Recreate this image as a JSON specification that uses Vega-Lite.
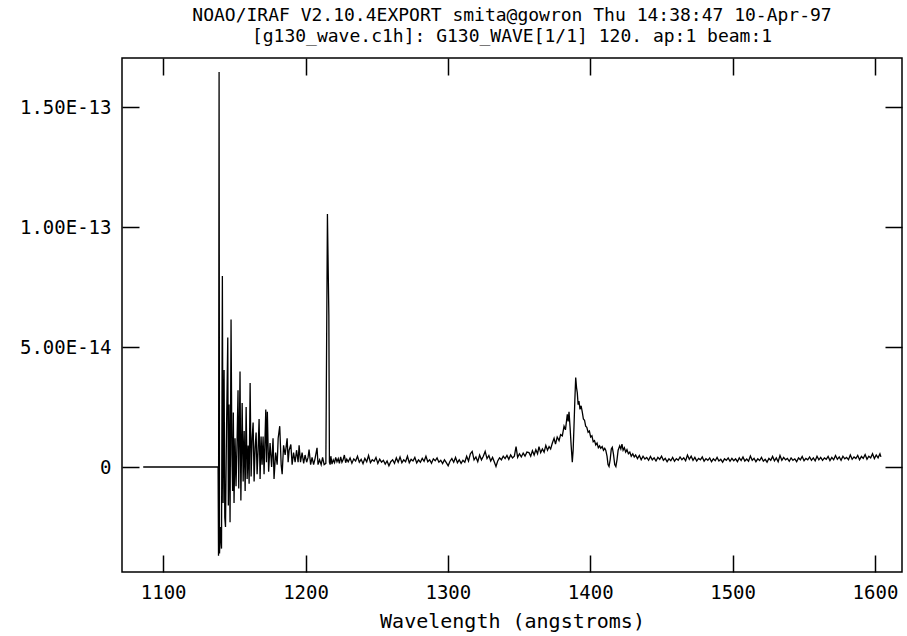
{
  "$schema": "https://vega.github.io/schema/vega-lite/v6.json",
  "width": 780,
  "height": 514,
  "autosize": {"type": "none"},
  "padding": {"left": 122, "top": 58, "right": 5, "bottom": 64},
  "background": "white",
  "title": {
    "text": ["NOAO/IRAF V2.10.4EXPORT smita@gowron Thu 14:38:47 10-Apr-97", "[g130_wave.c1h]: G130_WAVE[1/1] 120. ap:1 beam:1"],
    "font": "DejaVu Sans Mono",
    "fontSize": 18,
    "fontWeight": "normal",
    "color": "black",
    "anchor": "middle",
    "frame": "group",
    "offset": 11,
    "lineHeight": 21
  },
  "data": {
    "values": [
      {"w": 1086.0, "f": 0},
      {"w": 1138.6, "f": 0},
      {"w": 1138.9, "f": -3.7e-14},
      {"w": 1139.3, "f": 16.46e-14},
      {"w": 1139.6, "f": -3.6e-14},
      {"w": 1140.3, "f": -2.5e-14},
      {"w": 1141.0, "f": -3.4e-14},
      {"w": 1141.6, "f": 7.96e-14},
      {"w": 1142.1, "f": -1.5e-14},
      {"w": 1142.8, "f": 4.04e-14},
      {"w": 1143.3, "f": -2.1e-14},
      {"w": 1143.8, "f": -2.5e-14},
      {"w": 1144.5, "f": 1.5e-14},
      {"w": 1145.4, "f": 5.4e-14},
      {"w": 1145.8, "f": -1.6e-14},
      {"w": 1146.3, "f": 2.6e-14},
      {"w": 1147.0, "f": -2.3e-14},
      {"w": 1147.7, "f": 6.15e-14},
      {"w": 1148.3, "f": 0.5e-14},
      {"w": 1148.8, "f": -1.0e-14},
      {"w": 1149.3, "f": 2.27e-14},
      {"w": 1149.8, "f": -1.5e-14},
      {"w": 1150.5, "f": 1.2e-14},
      {"w": 1151.2, "f": -0.8e-14},
      {"w": 1151.9, "f": 1.0e-14},
      {"w": 1152.6, "f": 3.2e-14},
      {"w": 1153.1, "f": -0.9e-14},
      {"w": 1154.0, "f": 3.98e-14},
      {"w": 1154.6, "f": -1.4e-14},
      {"w": 1155.5, "f": 2.67e-14},
      {"w": 1156.2, "f": -0.6e-14},
      {"w": 1156.9, "f": 1.5e-14},
      {"w": 1157.6, "f": -1.0e-14},
      {"w": 1158.3, "f": 2.5e-14},
      {"w": 1159.0, "f": -0.5e-14},
      {"w": 1159.7, "f": 0.9e-14},
      {"w": 1160.4, "f": -0.7e-14},
      {"w": 1161.1, "f": 3.5e-14},
      {"w": 1161.8, "f": -0.4e-14},
      {"w": 1162.5, "f": 1.2e-14},
      {"w": 1163.2, "f": 1.85e-14},
      {"w": 1163.9, "f": -0.6e-14},
      {"w": 1164.6, "f": 0.8e-14},
      {"w": 1165.3, "f": 1.44e-14},
      {"w": 1166.0, "f": -0.3e-14},
      {"w": 1166.7, "f": 0.7e-14},
      {"w": 1167.4, "f": 2.0e-14},
      {"w": 1168.1, "f": -0.5e-14},
      {"w": 1168.8, "f": 1.27e-14},
      {"w": 1169.5, "f": 0.1e-14},
      {"w": 1170.2, "f": 1.27e-14},
      {"w": 1170.9, "f": -0.3e-14},
      {"w": 1172.1, "f": 2.4e-14},
      {"w": 1172.6, "f": 0.2e-14},
      {"w": 1173.2, "f": 2.3e-14},
      {"w": 1174.1, "f": -0.2e-14},
      {"w": 1175.1, "f": 1.0e-14},
      {"w": 1176.2, "f": 0.0},
      {"w": 1177.2, "f": 1.2e-14},
      {"w": 1177.9, "f": -0.5e-14},
      {"w": 1179.0, "f": 0.6e-14},
      {"w": 1180.1, "f": 0.1e-14},
      {"w": 1180.8, "f": 1.2e-14},
      {"w": 1181.9, "f": 1.7e-14},
      {"w": 1182.9, "f": 0.1e-14},
      {"w": 1183.6, "f": -0.3e-14},
      {"w": 1184.6, "f": 0.9e-14},
      {"w": 1185.7, "f": 0.5e-14},
      {"w": 1187.1, "f": 1.2e-14},
      {"w": 1187.8, "f": 0.2e-14},
      {"w": 1188.5, "f": 0.7e-14},
      {"w": 1189.7, "f": 0.94e-14},
      {"w": 1190.6, "f": 0.1e-14},
      {"w": 1191.6, "f": 0.6e-14},
      {"w": 1192.7, "f": 0.2e-14},
      {"w": 1193.7, "f": 0.7e-14},
      {"w": 1194.8, "f": 0.2e-14},
      {"w": 1195.5, "f": 0.9e-14},
      {"w": 1196.5, "f": 0.2e-14},
      {"w": 1197.6, "f": 0.6e-14},
      {"w": 1198.7, "f": 0.15e-14},
      {"w": 1199.7, "f": 0.5e-14},
      {"w": 1200.8, "f": 0.2e-14},
      {"w": 1201.8, "f": 0.4e-14},
      {"w": 1202.5, "f": 0.73e-14},
      {"w": 1203.6, "f": 0.1e-14},
      {"w": 1204.6, "f": 0.4e-14},
      {"w": 1205.7, "f": 0.1e-14},
      {"w": 1206.7, "f": 0.35e-14},
      {"w": 1208.1, "f": 0.8e-14},
      {"w": 1208.8, "f": 0.1e-14},
      {"w": 1209.9, "f": 0.3e-14},
      {"w": 1211.0, "f": 0.1e-14},
      {"w": 1212.0, "f": 0.4e-14},
      {"w": 1213.1, "f": 0.1e-14},
      {"w": 1214.3, "f": 0.15e-14},
      {"w": 1215.4, "f": 10.54e-14},
      {"w": 1216.4, "f": 6.3e-14},
      {"w": 1216.8, "f": 0.2e-14},
      {"w": 1217.3, "f": 0.10e-14},
      {"w": 1217.8, "f": 0.45e-14},
      {"w": 1218.6, "f": 0.12e-14},
      {"w": 1219.5, "f": 0.30e-14},
      {"w": 1220.4, "f": 0.18e-14},
      {"w": 1221.2, "f": 0.40e-14},
      {"w": 1222.1, "f": 0.22e-14},
      {"w": 1223.0, "f": 0.35e-14},
      {"w": 1223.8, "f": 0.15e-14},
      {"w": 1224.7, "f": 0.42e-14},
      {"w": 1225.6, "f": 0.20e-14},
      {"w": 1226.4, "f": 0.30e-14},
      {"w": 1227.3, "f": 0.50e-14},
      {"w": 1228.2, "f": 0.18e-14},
      {"w": 1229.0, "f": 0.33e-14},
      {"w": 1230.0, "f": 0.22e-14},
      {"w": 1231.3, "f": 0.38e-14},
      {"w": 1232.6, "f": 0.16e-14},
      {"w": 1233.9, "f": 0.34e-14},
      {"w": 1235.2, "f": 0.25e-14},
      {"w": 1236.5, "f": 0.45e-14},
      {"w": 1237.8, "f": 0.20e-14},
      {"w": 1239.1, "f": 0.32e-14},
      {"w": 1240.4, "f": 0.14e-14},
      {"w": 1241.7, "f": 0.36e-14},
      {"w": 1243.0, "f": 0.22e-14},
      {"w": 1244.3, "f": 0.48e-14},
      {"w": 1245.6, "f": 0.18e-14},
      {"w": 1246.9, "f": 0.30e-14},
      {"w": 1248.2, "f": 0.24e-14},
      {"w": 1249.5, "f": 0.40e-14},
      {"w": 1250.8, "f": 0.15e-14},
      {"w": 1252.1, "f": 0.33e-14},
      {"w": 1253.4, "f": 0.20e-14},
      {"w": 1254.7, "f": 0.28e-14},
      {"w": 1256.0, "f": 0.12e-14},
      {"w": 1257.3, "f": 0.25e-14},
      {"w": 1258.6, "f": 0.05e-14},
      {"w": 1259.9, "f": 0.22e-14},
      {"w": 1261.2, "f": 0.30e-14},
      {"w": 1262.5, "f": 0.15e-14},
      {"w": 1263.8, "f": 0.38e-14},
      {"w": 1265.1, "f": 0.20e-14},
      {"w": 1266.4, "f": 0.42e-14},
      {"w": 1267.7, "f": 0.18e-14},
      {"w": 1269.0, "f": 0.30e-14},
      {"w": 1270.3, "f": 0.22e-14},
      {"w": 1271.6, "f": 0.45e-14},
      {"w": 1272.9, "f": 0.18e-14},
      {"w": 1274.2, "f": 0.32e-14},
      {"w": 1275.5, "f": 0.25e-14},
      {"w": 1276.8, "f": 0.40e-14},
      {"w": 1278.1, "f": 0.17e-14},
      {"w": 1279.4, "f": 0.30e-14},
      {"w": 1280.7, "f": 0.20e-14},
      {"w": 1282.0, "f": 0.36e-14},
      {"w": 1283.3, "f": 0.24e-14},
      {"w": 1284.6, "f": 0.45e-14},
      {"w": 1285.9, "f": 0.22e-14},
      {"w": 1287.2, "f": 0.30e-14},
      {"w": 1288.5, "f": 0.16e-14},
      {"w": 1289.8, "f": 0.34e-14},
      {"w": 1291.1, "f": 0.26e-14},
      {"w": 1292.4, "f": 0.38e-14},
      {"w": 1293.7, "f": 0.20e-14},
      {"w": 1295.0, "f": 0.28e-14},
      {"w": 1296.3, "f": 0.14e-14},
      {"w": 1297.6, "f": 0.30e-14},
      {"w": 1298.9, "f": 0.18e-14},
      {"w": 1300.2, "f": 0.05e-14},
      {"w": 1301.5, "f": 0.24e-14},
      {"w": 1302.8, "f": 0.35e-14},
      {"w": 1304.1, "f": 0.20e-14},
      {"w": 1305.4, "f": 0.40e-14},
      {"w": 1306.7, "f": 0.18e-14},
      {"w": 1308.0, "f": 0.30e-14},
      {"w": 1309.3, "f": 0.15e-14},
      {"w": 1310.6, "f": 0.28e-14},
      {"w": 1311.9, "f": 0.20e-14},
      {"w": 1313.2, "f": 0.45e-14},
      {"w": 1314.5, "f": 0.25e-14},
      {"w": 1315.8, "f": 0.55e-14},
      {"w": 1317.1, "f": 0.65e-14},
      {"w": 1318.4, "f": 0.30e-14},
      {"w": 1319.7, "f": 0.42e-14},
      {"w": 1321.0, "f": 0.22e-14},
      {"w": 1322.3, "f": 0.50e-14},
      {"w": 1323.6, "f": 0.30e-14},
      {"w": 1324.9, "f": 0.45e-14},
      {"w": 1326.2, "f": 0.65e-14},
      {"w": 1327.5, "f": 0.35e-14},
      {"w": 1328.8, "f": 0.48e-14},
      {"w": 1330.1, "f": 0.25e-14},
      {"w": 1331.4, "f": 0.40e-14},
      {"w": 1332.7, "f": 0.20e-14},
      {"w": 1333.8, "f": 0.02e-14},
      {"w": 1335.0, "f": 0.25e-14},
      {"w": 1336.3, "f": 0.38e-14},
      {"w": 1337.6, "f": 0.30e-14},
      {"w": 1338.9, "f": 0.45e-14},
      {"w": 1340.2, "f": 0.35e-14},
      {"w": 1341.5, "f": 0.48e-14},
      {"w": 1342.8, "f": 0.32e-14},
      {"w": 1344.1, "f": 0.50e-14},
      {"w": 1345.4, "f": 0.38e-14},
      {"w": 1346.7, "f": 0.45e-14},
      {"w": 1347.9, "f": 0.85e-14},
      {"w": 1349.0, "f": 0.40e-14},
      {"w": 1350.3, "f": 0.55e-14},
      {"w": 1351.6, "f": 0.42e-14},
      {"w": 1352.9, "f": 0.58e-14},
      {"w": 1354.2, "f": 0.45e-14},
      {"w": 1355.5, "f": 0.62e-14},
      {"w": 1357.0, "f": 0.60e-14},
      {"w": 1358.2, "f": 0.45e-14},
      {"w": 1359.4, "f": 0.68e-14},
      {"w": 1360.6, "f": 0.50e-14},
      {"w": 1361.8, "f": 0.72e-14},
      {"w": 1363.0, "f": 0.55e-14},
      {"w": 1364.0, "f": 0.85e-14},
      {"w": 1365.2, "f": 0.60e-14},
      {"w": 1366.4, "f": 0.75e-14},
      {"w": 1367.6, "f": 0.62e-14},
      {"w": 1368.8, "f": 0.90e-14},
      {"w": 1370.0, "f": 0.70e-14},
      {"w": 1371.1, "f": 0.85e-14},
      {"w": 1372.2, "f": 0.75e-14},
      {"w": 1373.4, "f": 1.00e-14},
      {"w": 1374.6, "f": 1.20e-14},
      {"w": 1375.6, "f": 0.95e-14},
      {"w": 1376.8, "f": 1.25e-14},
      {"w": 1378.1, "f": 1.10e-14},
      {"w": 1379.2, "f": 1.35e-14},
      {"w": 1380.4, "f": 1.30e-14},
      {"w": 1381.6, "f": 1.70e-14},
      {"w": 1382.6, "f": 1.55e-14},
      {"w": 1383.9, "f": 2.20e-14},
      {"w": 1384.5, "f": 1.90e-14},
      {"w": 1385.1, "f": 2.30e-14},
      {"w": 1385.8, "f": 1.70e-14},
      {"w": 1386.6, "f": 0.90e-14},
      {"w": 1387.4, "f": 0.20e-14},
      {"w": 1388.0, "f": 0.70e-14},
      {"w": 1388.6, "f": 1.70e-14},
      {"w": 1389.2, "f": 2.80e-14},
      {"w": 1389.8, "f": 3.73e-14},
      {"w": 1390.4, "f": 3.30e-14},
      {"w": 1390.9, "f": 3.10e-14},
      {"w": 1391.5, "f": 2.60e-14},
      {"w": 1392.1, "f": 2.75e-14},
      {"w": 1392.8, "f": 2.40e-14},
      {"w": 1393.6, "f": 2.55e-14},
      {"w": 1394.4, "f": 2.30e-14},
      {"w": 1395.2, "f": 2.00e-14},
      {"w": 1396.0, "f": 1.95e-14},
      {"w": 1396.8, "f": 1.70e-14},
      {"w": 1397.6, "f": 1.65e-14},
      {"w": 1398.5, "f": 1.45e-14},
      {"w": 1399.4, "f": 1.50e-14},
      {"w": 1400.3, "f": 1.25e-14},
      {"w": 1401.2, "f": 1.30e-14},
      {"w": 1402.1, "f": 1.05e-14},
      {"w": 1403.0, "f": 1.10e-14},
      {"w": 1403.9, "f": 0.92e-14},
      {"w": 1404.8, "f": 1.00e-14},
      {"w": 1405.7, "f": 0.80e-14},
      {"w": 1406.6, "f": 0.88e-14},
      {"w": 1407.4, "f": 0.78e-14},
      {"w": 1408.4, "f": 0.85e-14},
      {"w": 1409.3, "f": 0.70e-14},
      {"w": 1410.2, "f": 0.78e-14},
      {"w": 1410.9, "f": 0.70e-14},
      {"w": 1411.8, "f": 0.45e-14},
      {"w": 1412.5, "f": 0.10e-14},
      {"w": 1413.2, "f": 0.02e-14},
      {"w": 1414.0, "f": 0.30e-14},
      {"w": 1414.8, "f": 0.75e-14},
      {"w": 1415.5, "f": 0.82e-14},
      {"w": 1416.3, "f": 0.55e-14},
      {"w": 1417.2, "f": 0.10e-14},
      {"w": 1418.0, "f": 0.02e-14},
      {"w": 1418.8, "f": 0.30e-14},
      {"w": 1419.6, "f": 0.70e-14},
      {"w": 1420.7, "f": 0.88e-14},
      {"w": 1421.5, "f": 0.75e-14},
      {"w": 1422.3, "f": 0.95e-14},
      {"w": 1423.1, "f": 0.70e-14},
      {"w": 1424.0, "f": 0.80e-14},
      {"w": 1424.9, "f": 0.62e-14},
      {"w": 1425.8, "f": 0.72e-14},
      {"w": 1426.8, "f": 0.55e-14},
      {"w": 1427.8, "f": 0.62e-14},
      {"w": 1428.8, "f": 0.45e-14},
      {"w": 1429.9, "f": 0.55e-14},
      {"w": 1430.9, "f": 0.42e-14},
      {"w": 1431.9, "f": 0.50e-14},
      {"w": 1433.2, "f": 0.35e-14},
      {"w": 1434.5, "f": 0.48e-14},
      {"w": 1435.8, "f": 0.30e-14},
      {"w": 1437.1, "f": 0.45e-14},
      {"w": 1438.4, "f": 0.33e-14},
      {"w": 1439.7, "f": 0.40e-14},
      {"w": 1441.0, "f": 0.28e-14},
      {"w": 1442.3, "f": 0.44e-14},
      {"w": 1443.6, "f": 0.30e-14},
      {"w": 1444.9, "f": 0.38e-14},
      {"w": 1446.2, "f": 0.25e-14},
      {"w": 1447.5, "f": 0.40e-14},
      {"w": 1448.8, "f": 0.32e-14},
      {"w": 1450.1, "f": 0.45e-14},
      {"w": 1451.4, "f": 0.28e-14},
      {"w": 1452.7, "f": 0.36e-14},
      {"w": 1454.0, "f": 0.22e-14},
      {"w": 1455.3, "f": 0.34e-14},
      {"w": 1456.6, "f": 0.26e-14},
      {"w": 1457.9, "f": 0.40e-14},
      {"w": 1459.2, "f": 0.24e-14},
      {"w": 1460.5, "f": 0.35e-14},
      {"w": 1461.8, "f": 0.28e-14},
      {"w": 1463.1, "f": 0.42e-14},
      {"w": 1464.4, "f": 0.30e-14},
      {"w": 1465.7, "f": 0.38e-14},
      {"w": 1467.0, "f": 0.26e-14},
      {"w": 1468.3, "f": 0.50e-14},
      {"w": 1469.6, "f": 0.32e-14},
      {"w": 1470.9, "f": 0.45e-14},
      {"w": 1472.2, "f": 0.28e-14},
      {"w": 1473.5, "f": 0.40e-14},
      {"w": 1474.8, "f": 0.25e-14},
      {"w": 1476.1, "f": 0.36e-14},
      {"w": 1477.4, "f": 0.30e-14},
      {"w": 1478.7, "f": 0.42e-14},
      {"w": 1480.0, "f": 0.24e-14},
      {"w": 1481.3, "f": 0.35e-14},
      {"w": 1482.6, "f": 0.28e-14},
      {"w": 1483.9, "f": 0.38e-14},
      {"w": 1485.2, "f": 0.22e-14},
      {"w": 1486.5, "f": 0.34e-14},
      {"w": 1487.8, "f": 0.26e-14},
      {"w": 1489.1, "f": 0.40e-14},
      {"w": 1490.4, "f": 0.25e-14},
      {"w": 1491.7, "f": 0.32e-14},
      {"w": 1493.0, "f": 0.20e-14},
      {"w": 1494.3, "f": 0.34e-14},
      {"w": 1495.6, "f": 0.28e-14},
      {"w": 1496.9, "f": 0.38e-14},
      {"w": 1498.2, "f": 0.24e-14},
      {"w": 1499.5, "f": 0.36e-14},
      {"w": 1500.8, "f": 0.26e-14},
      {"w": 1502.1, "f": 0.34e-14},
      {"w": 1503.4, "f": 0.22e-14},
      {"w": 1504.7, "f": 0.38e-14},
      {"w": 1506.0, "f": 0.27e-14},
      {"w": 1507.3, "f": 0.42e-14},
      {"w": 1508.6, "f": 0.25e-14},
      {"w": 1509.9, "f": 0.33e-14},
      {"w": 1511.2, "f": 0.24e-14},
      {"w": 1512.5, "f": 0.46e-14},
      {"w": 1513.8, "f": 0.28e-14},
      {"w": 1515.1, "f": 0.36e-14},
      {"w": 1516.4, "f": 0.22e-14},
      {"w": 1517.7, "f": 0.34e-14},
      {"w": 1519.0, "f": 0.27e-14},
      {"w": 1520.3, "f": 0.40e-14},
      {"w": 1521.6, "f": 0.24e-14},
      {"w": 1522.9, "f": 0.32e-14},
      {"w": 1524.2, "f": 0.20e-14},
      {"w": 1525.5, "f": 0.36e-14},
      {"w": 1526.8, "f": 0.28e-14},
      {"w": 1528.1, "f": 0.44e-14},
      {"w": 1529.4, "f": 0.26e-14},
      {"w": 1530.7, "f": 0.38e-14},
      {"w": 1532.0, "f": 0.22e-14},
      {"w": 1533.3, "f": 0.48e-14},
      {"w": 1534.6, "f": 0.28e-14},
      {"w": 1535.9, "f": 0.40e-14},
      {"w": 1537.2, "f": 0.30e-14},
      {"w": 1538.5, "f": 0.36e-14},
      {"w": 1539.8, "f": 0.24e-14},
      {"w": 1541.1, "f": 0.38e-14},
      {"w": 1542.4, "f": 0.28e-14},
      {"w": 1543.7, "f": 0.34e-14},
      {"w": 1545.0, "f": 0.22e-14},
      {"w": 1546.3, "f": 0.38e-14},
      {"w": 1547.6, "f": 0.30e-14},
      {"w": 1548.9, "f": 0.44e-14},
      {"w": 1550.2, "f": 0.26e-14},
      {"w": 1551.5, "f": 0.36e-14},
      {"w": 1552.8, "f": 0.30e-14},
      {"w": 1554.1, "f": 0.42e-14},
      {"w": 1555.4, "f": 0.28e-14},
      {"w": 1556.7, "f": 0.38e-14},
      {"w": 1558.0, "f": 0.26e-14},
      {"w": 1559.3, "f": 0.45e-14},
      {"w": 1560.6, "f": 0.30e-14},
      {"w": 1561.9, "f": 0.40e-14},
      {"w": 1563.2, "f": 0.28e-14},
      {"w": 1564.5, "f": 0.38e-14},
      {"w": 1565.8, "f": 0.32e-14},
      {"w": 1567.1, "f": 0.44e-14},
      {"w": 1568.4, "f": 0.27e-14},
      {"w": 1569.7, "f": 0.40e-14},
      {"w": 1571.0, "f": 0.30e-14},
      {"w": 1572.3, "f": 0.48e-14},
      {"w": 1573.6, "f": 0.32e-14},
      {"w": 1574.9, "f": 0.42e-14},
      {"w": 1576.2, "f": 0.28e-14},
      {"w": 1577.5, "f": 0.45e-14},
      {"w": 1578.8, "f": 0.34e-14},
      {"w": 1580.1, "f": 0.40e-14},
      {"w": 1581.4, "f": 0.30e-14},
      {"w": 1582.7, "f": 0.50e-14},
      {"w": 1584.0, "f": 0.32e-14},
      {"w": 1585.3, "f": 0.42e-14},
      {"w": 1586.6, "f": 0.35e-14},
      {"w": 1587.9, "f": 0.48e-14},
      {"w": 1589.2, "f": 0.30e-14},
      {"w": 1590.5, "f": 0.44e-14},
      {"w": 1591.8, "f": 0.36e-14},
      {"w": 1593.1, "f": 0.52e-14},
      {"w": 1594.4, "f": 0.32e-14},
      {"w": 1595.7, "f": 0.45e-14},
      {"w": 1597.0, "f": 0.38e-14},
      {"w": 1598.3, "f": 0.55e-14},
      {"w": 1599.6, "f": 0.35e-14},
      {"w": 1600.9, "f": 0.50e-14},
      {"w": 1602.2, "f": 0.38e-14},
      {"w": 1603.5, "f": 0.55e-14},
      {"w": 1604.2, "f": 0.42e-14}
    ]
  },
  "layer": [
    {
      "mark": {"type": "line", "color": "black", "strokeWidth": 1.3, "interpolate": "linear"},
      "encoding": {
        "x": {
          "field": "w", "type": "quantitative", "sort": null,
          "scale": {"domain": [1071.1, 1619], "nice": false, "zero": false},
          "axis": {"orient": "bottom", "values": [1100, 1200, 1300, 1400, 1500, 1600], "format": "d", "title": "Wavelength (angstroms)", "titlePadding": 9, "labelPadding": 28}
        },
        "y": {
          "field": "f", "type": "quantitative",
          "scale": {"domain": [-4.375e-14, 1.7042e-13], "nice": false, "zero": false},
          "axis": {"orient": "left", "values": [0, 5e-14, 1e-13, 1.5e-13], "labelExpr": "datum.value == 0 ? '0' : upper(format(datum.value, '.2e'))", "title": null, "labelPadding": 28}
        },
        "order": {"field": "w", "type": "quantitative"}
      }
    },
    {
      "mark": {"type": "line", "opacity": 0},
      "encoding": {
        "x": {"field": "w", "type": "quantitative", "axis": {"orient": "top", "values": [1100, 1200, 1300, 1400, 1500, 1600], "labels": false, "title": null}},
        "y": {"field": "f", "type": "quantitative", "axis": {"orient": "right", "values": [0, 5e-14, 1e-13, 1.5e-13], "labels": false, "title": null}}
      }
    }
  ],
  "resolve": {"axis": {"x": "independent", "y": "independent"}},
  "config": {
    "view": {"stroke": "black", "strokeWidth": 1.5},
    "axis": {
      "domain": false,
      "grid": false,
      "ticks": true,
      "tickSize": -17,
      "tickWidth": 1.5,
      "tickColor": "black",
      "labelFont": "DejaVu Sans Mono",
      "labelFontSize": 19,
      "labelColor": "black",
      "titleFont": "DejaVu Sans Mono",
      "titleFontSize": 20,
      "titleFontWeight": "normal",
      "titleColor": "black"
    }
  }
}
